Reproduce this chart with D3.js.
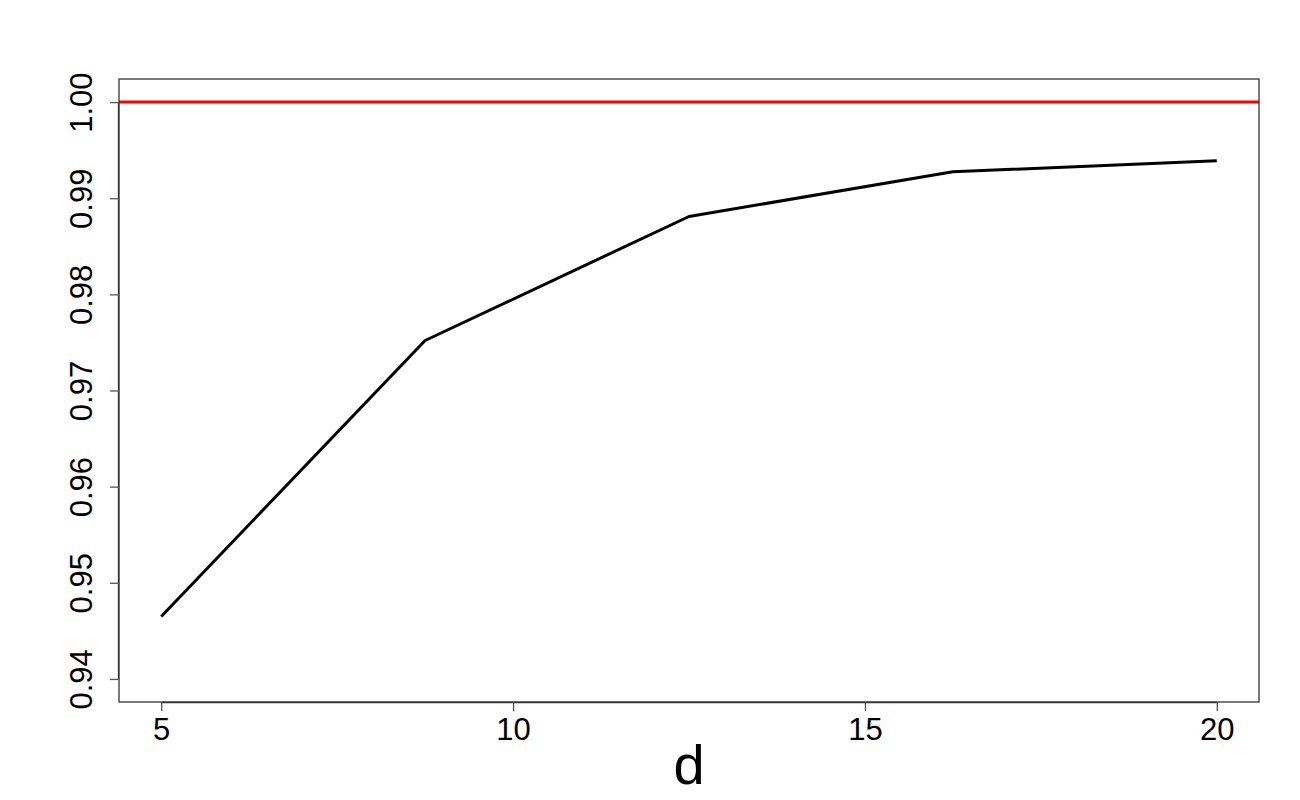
<!DOCTYPE html>
<html>
<head>
<meta charset="UTF-8">
<title>d vs ratio</title>
<script src="https://cdn.jsdelivr.net/npm/d3@7"></script>
<style>
  body { margin: 0; background: #fff; }
  svg text { font-family: "Liberation Sans", Arial, sans-serif; fill: #000; }
</style>
</head>
<body>
<svg id="chart" width="1300" height="800"></svg>
<script>
// data
const dValues = [5, 8.75, 12.5, 16.25, 20];
const ratioValues = [0.9465, 0.9752, 0.9881, 0.99275, 0.9939];
const refLine = 1.0;
const xTicks = [5, 10, 15, 20];
const yTicks = [0.94, 0.95, 0.96, 0.97, 0.98, 0.99, 1.00];

const box = { left: 119, right: 1259, top: 79, bottom: 702 };

const svg = d3.select("#chart");

// R style 4% padding on each side
const xScale = d3.scaleLinear()
    .domain([4.4, 20.6])
    .range([box.left, box.right]);
const yScale = d3.scaleLinear()
    .domain([0.9376, 1.0024])
    .range([box.bottom, box.top]);

// reference line
svg.append("line")
    .attr("x1", box.left).attr("x2", box.right)
    .attr("y1", yScale(refLine)).attr("y2", yScale(refLine))
    .attr("stroke", "#ff0000")
    .attr("stroke-width", 3);

// data line
const line = d3.line()
    .x((d, i) => xScale(dValues[i]))
    .y(d => yScale(d));
svg.append("path")
    .datum(ratioValues)
    .attr("d", line)
    .attr("fill", "none")
    .attr("stroke", "#000")
    .attr("stroke-width", 3)
    .attr("stroke-linejoin", "round");

// plot frame
svg.append("rect")
    .attr("x", box.left).attr("y", box.top)
    .attr("width", box.right - box.left)
    .attr("height", box.bottom - box.top)
    .attr("fill", "none")
    .attr("stroke", "#333")
    .attr("stroke-width", 1.3);

// x axis
const xAxis = svg.append("g")
    .attr("transform", `translate(0,${box.bottom})`)
    .call(d3.axisBottom(xScale).tickValues(xTicks).tickSize(9).tickPadding(7).tickFormat(d3.format("d")));
xAxis.select(".domain").attr("d", `M${xScale(5)},0.5H${xScale(20)}`).attr("stroke", "#333").attr("stroke-width", 1.3);
xAxis.selectAll(".tick line").attr("stroke", "#555").attr("stroke-width", 1.3);
xAxis.selectAll(".tick text")
    .attr("font-size", 31)
    .attr("font-family", "Liberation Sans, Arial, sans-serif")
    .attr("fill", "#000");

// y axis
const yAxis = svg.append("g")
    .attr("transform", `translate(${box.left},0)`)
    .call(d3.axisLeft(yScale).tickValues(yTicks).tickSize(9).tickFormat(d3.format(".2f")));
yAxis.select(".domain").attr("d", `M-0.5,${yScale(0.94)}V${yScale(1.0)}`).attr("stroke", "#333").attr("stroke-width", 1.3);
yAxis.selectAll(".tick line").attr("stroke", "#555").attr("stroke-width", 1.3);
yAxis.selectAll(".tick text")
    .attr("font-size", 31)
    .attr("font-family", "Liberation Sans, Arial, sans-serif")
    .attr("fill", "#000")
    .attr("x", null).attr("dy", null)
    .attr("text-anchor", "middle")
    .attr("transform", "translate(-27,0) rotate(-90)");

// x label
svg.append("text")
    .attr("x", (box.left + box.right) / 2)
    .attr("y", 784)
    .attr("text-anchor", "middle")
    .attr("font-size", 56)
    .text("d");
</script>
</body>
</html>
